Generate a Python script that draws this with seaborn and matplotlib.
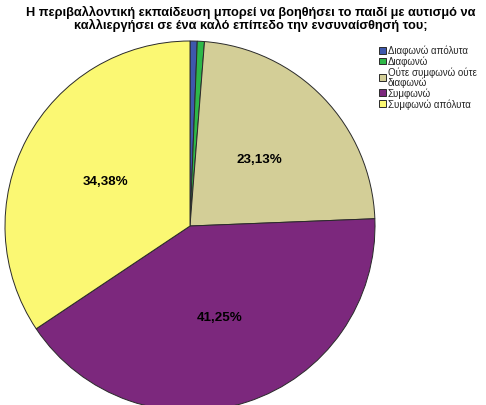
import matplotlib
matplotlib.use("Agg")
import matplotlib.pyplot as plt
import seaborn as sns
from decimal import Decimal, ROUND_HALF_UP

sns.set_theme(style="white")
plt.rcParams['font.family'] = ['Liberation Sans', 'DejaVu Sans']

categories = ["Διαφωνώ απόλυτα", "Διαφωνώ", "Ούτε συμφωνώ ούτε\nδιαφωνώ", "Συμφωνώ", "Συμφωνώ απόλυτα"]
counts = [1, 1, 37, 66, 55]
colors = ["#3e58ac", "#2eb848", "#d3ce97", "#7c287d", "#fbf873"]
title = "Η περιβαλλοντική εκπαίδευση μπορεί να βοηθήσει το παιδί με αυτισμό να\nκαλλιεργήσει σε ένα καλό επίπεδο την ενσυναίσθησή του;"

W, H = 486, 406
fig = plt.figure(figsize=(W / 100, H / 100), dpi=100)
fig.patch.set_facecolor("white")

# pie area: centre (190, 227) px from top, radius 185 px
cx, cy, r = 190, 227, 185
ax = fig.add_axes([(cx - r) / W, (H - cy - r) / H, 2 * r / W, 2 * r / H])


def pct_label(p):
    if p <= 2:
        return ""
    q = Decimal(str(round(float(p), 6))).quantize(Decimal("0.01"), rounding=ROUND_HALF_UP)
    return str(q).replace(".", ",") + "%"


wedges, texts, autotexts = ax.pie(
    counts, colors=colors, startangle=90, counterclock=False,
    autopct=pct_label, pctdistance=0.52, radius=1.0,
    wedgeprops=dict(edgecolor="#2a2a2a", linewidth=0.7),
    textprops=dict(fontsize=9.6, fontweight="bold", color="black"),
)
ax.set_xlim(-1, 1)
ax.set_ylim(-1, 1)
ax.set_aspect("equal")
ax.axis("off")

fig.text(0.515, 1 - 19 / H, title, ha="center", va="center", color="black",
         fontsize=9.2, fontweight="bold", linespacing=1.05)

leg = fig.legend(wedges, categories, loc="upper left",
                 bbox_to_anchor=(379 / W, 1 - 46 / H),
                 frameon=False, fontsize=7, handlelength=0.7, handleheight=0.7,
                 handletextpad=0.2, labelspacing=0.05, borderaxespad=0,
                 borderpad=0)
plt.setp(leg.get_texts(), linespacing=0.85)

fig.savefig("out.png", dpi=100, facecolor="white")
